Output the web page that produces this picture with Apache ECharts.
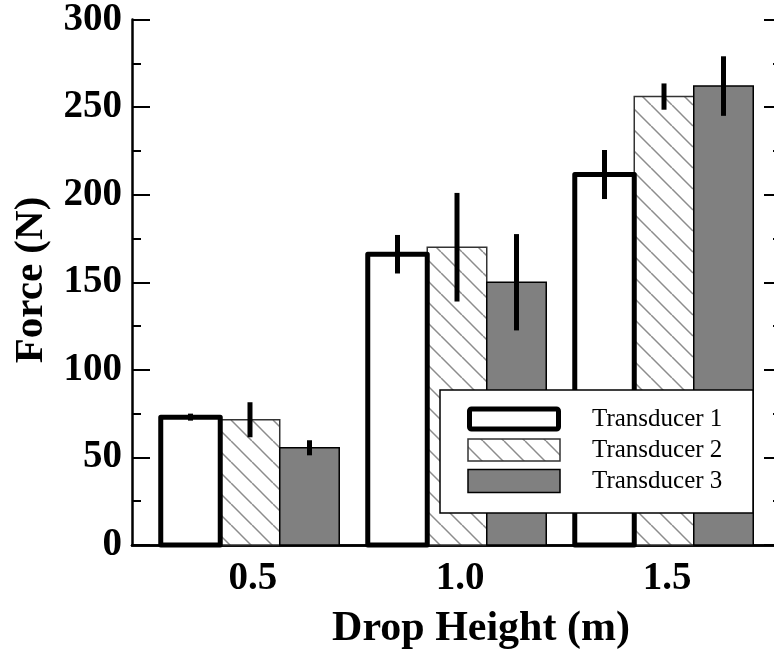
<!DOCTYPE html>
<html>
<head>
<meta charset="utf-8">
<script src="https://cdn.jsdelivr.net/npm/echarts@6/dist/echarts.min.js"></script>
<style>
  html, body { margin: 0; padding: 0; background: #fff; overflow: hidden; }
  #chart { width: 790px; height: 651px; }
</style>
</head>
<body>
<div id="chart"></div>
<script>
// Peak force per transducer at each drop height (mean and error half-range)
const dropHeights = [0.5, 1.0, 1.5];
const seriesNames = ['Transducer 1', 'Transducer 2', 'Transducer 3'];
const t1Force = [73, 166, 211.5];
const t1Err = [2, 11, 14];
const t2Force = [71.5, 170, 256];
const t2Err = [10, 31, 7.5];
const t3Force = [55.5, 150, 262];
const t3Err = [4.3, 27.5, 17];
const xTickValues = [0.5, 1.0, 1.5];

const SERIF = "'Liberation Serif', 'Times New Roman', serif";
const BAR_W = 0.1437; // bar width in axis units

// Diagonal hatch tile for the second transducer
function hatchPattern() {
  const P = 21;
  const c = document.createElement('canvas');
  c.width = P; c.height = P;
  const ctx = c.getContext('2d');
  ctx.fillStyle = '#fff';
  ctx.fillRect(0, 0, P, P);
  ctx.strokeStyle = '#8c8c8c';
  ctx.lineWidth = 1.5;
  for (const k of [-P, 0, P]) {
    ctx.beginPath();
    ctx.moveTo(k, 0);
    ctx.lineTo(k + P, P);
    ctx.stroke();
  }
  return { image: c, repeat: 'repeat' };
}
const hatch = hatchPattern();

const barStyles = [
  { fill: '#fff', stroke: '#000', lineWidth: 5, lineJoin: 'round' },
  { fill: hatch, stroke: '#333', lineWidth: 1.5 },
  { fill: '#808080', stroke: '#000', lineWidth: 1.5 }
];

function rows(force, err) {
  return dropHeights.map((h, i) => [h, force[i], err[i]]);
}

function makeRender(slot) {
  return function (params, api) {
    const x = api.value(0), v = api.value(1), e = api.value(2);
    const cx = x + (slot - 1) * BAR_W;
    const p0 = api.coord([cx - BAR_W / 2, v]);
    const p1 = api.coord([cx + BAR_W / 2, 0]);
    const top = api.coord([cx, v + e]);
    const bot = api.coord([cx, v - e]);
    return {
      type: 'group',
      children: [
        {
          type: 'rect',
          shape: { x: p0[0], y: p0[1], width: p1[0] - p0[0], height: p1[1] - p0[1] },
          style: barStyles[slot]
        },
        {
          type: 'line',
          shape: { x1: top[0], y1: top[1], x2: bot[0], y2: bot[1] },
          style: { stroke: '#000', lineWidth: 5 }
        }
      ]
    };
  };
}

const forces = [t1Force, t2Force, t3Force];
const errs = [t1Err, t2Err, t3Err];
// draw transducer 1 last so its heavy outline stays on top
const drawOrder = [1, 2, 0];
const series = drawOrder.map(slot => ({
  name: seriesNames[slot],
  type: 'custom',
  xAxisIndex: 0,
  yAxisIndex: 0,
  z: 2 + (slot === 0 ? 1 : 0),
  renderItem: makeRender(slot),
  data: rows(forces[slot], errs[slot]),
  clip: false
}));

const axisLineStyle = { color: '#000', width: 2.5 };
const tickStyle = { color: '#000', width: 2 };

// Legend drawn as a boxed key
const legendX = 440, legendY = 390;
const swatchX = 469.5, swatchW = 89;
const legendRows = [419, 450, 481];
const legendEls = [
  { type: 'rect', shape: { x: legendX, y: legendY, width: 313, height: 123 },
    style: { fill: '#fff', stroke: '#000', lineWidth: 1.5 }, z: 10 },
  { type: 'rect', shape: { x: swatchX, y: legendRows[0] - 10, width: swatchW, height: 20, r: 2 },
    style: { fill: '#fff', stroke: '#000', lineWidth: 5 }, z: 11 },
  { type: 'rect', shape: { x: swatchX - 1.5, y: legendRows[1] - 11, width: swatchW + 3, height: 22 },
    style: { fill: hatch, stroke: '#333', lineWidth: 1.5 }, z: 11 },
  { type: 'rect', shape: { x: swatchX - 1.5, y: legendRows[2] - 11.5, width: swatchW + 3, height: 23 },
    style: { fill: '#808080', stroke: '#000', lineWidth: 1.5 }, z: 11 }
];
seriesNames.forEach((name, i) => {
  legendEls.push({
    type: 'text', x: 592, y: legendRows[i], z: 11,
    style: { text: name, font: '25px ' + SERIF, fill: '#000', align: 'left', verticalAlign: 'middle' }
  });
});

const option = {
  animation: false,
  backgroundColor: '#fff',
  grid: { left: 132, right: 8, top: 17, bottom: 106, containLabel: false },
  xAxis: [
    {
      type: 'value', position: 'bottom', min: 0.215, max: 1.785,
      axisLine: { show: true, lineStyle: axisLineStyle },
      axisTick: { show: false },
      splitLine: { show: false },
      axisLabel: {
        customValues: xTickValues,
        formatter: v => Number(v).toFixed(1),
        fontFamily: SERIF, fontSize: 39, fontWeight: 'bold', color: '#000', margin: 14,
        padding: [0, 0, 0, 6]
      }
    },
    {
      type: 'value', position: 'top', min: 0.215, max: 1.785,
      axisLine: { show: true, lineStyle: axisLineStyle },
      axisTick: { show: false }, axisLabel: { show: false }, splitLine: { show: false }
    }
  ],
  yAxis: [
    {
      type: 'value', position: 'left', min: 0, max: 300, interval: 50,
      axisLine: { show: true, lineStyle: axisLineStyle },
      axisTick: { show: true, inside: true, length: 18, lineStyle: tickStyle },
      minorTick: { show: true, splitNumber: 2, length: 9, lineStyle: tickStyle },
      splitLine: { show: false }, minorSplitLine: { show: false },
      axisLabel: { fontFamily: SERIF, fontSize: 39, fontWeight: 'bold', color: '#000', margin: 10 }
    },
    {
      type: 'value', position: 'right', min: 0, max: 300, interval: 50,
      axisLine: { show: true, lineStyle: axisLineStyle },
      axisTick: { show: true, inside: true, length: 18, lineStyle: tickStyle },
      minorTick: { show: true, splitNumber: 2, length: 9, lineStyle: tickStyle },
      splitLine: { show: false }, axisLabel: { show: false }
    }
  ],
  graphic: [
    { type: 'text', x: 481, y: 629, z: 5,
      style: { text: 'Drop Height (m)', font: 'bold 42px ' + SERIF, fill: '#000', align: 'center', verticalAlign: 'middle' } },
    { type: 'text', x: 31, y: 280, rotation: Math.PI / 2, z: 5,
      style: { text: 'Force (N)', font: 'bold 41px ' + SERIF, fill: '#000', align: 'center', verticalAlign: 'middle' } }
  ].concat(legendEls),
  series: series
};

const chart = echarts.init(document.getElementById('chart'), null, { renderer: 'canvas' });
chart.setOption(option);
</script>
</body>
</html>
